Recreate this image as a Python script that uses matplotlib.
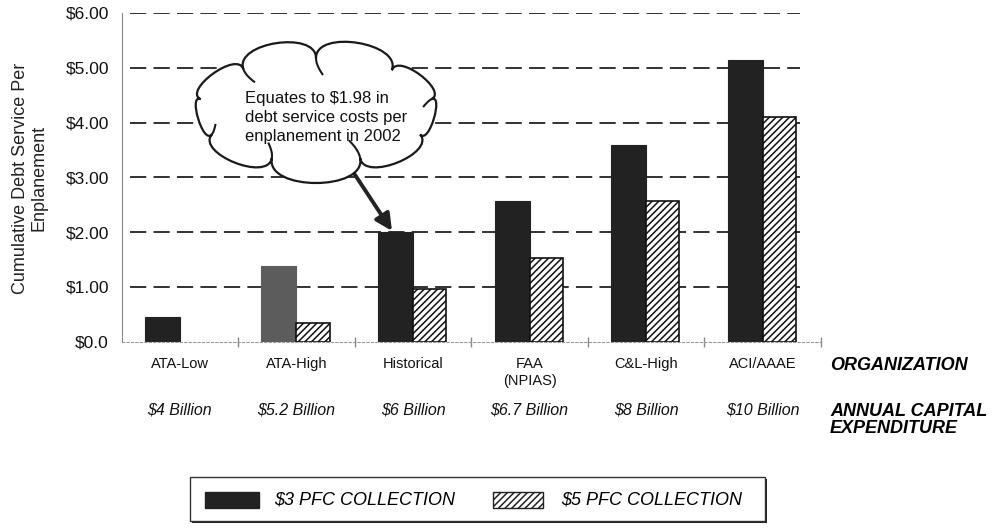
import numpy as np
import matplotlib
matplotlib.use('Agg')
import matplotlib.pyplot as plt
from matplotlib.path import Path
from matplotlib.patches import PathPatch, Rectangle

plt.rcParams['font.family'] = ['Liberation Sans', 'DejaVu Sans']
plt.rcParams['hatch.linewidth'] = 1.1

# debt service per enplanement, by capital-program scenario
organizations = ['ATA-Low', 'ATA-High', 'Historical', 'FAA\n(NPIAS)', 'C&L-High', 'ACI/AAAE']
capex_labels = [r'\$4 Billion', r'\$5.2 Billion', r'\$6 Billion', r'\$6.7 Billion',
                r'\$8 Billion', r'\$10 Billion']
pfc3 = [0.45, 1.38, 2.00, 2.57, 3.59, 5.14]
pfc5 = [0.0, 0.34, 0.96, 1.53, 2.57, 4.10]
pfc3_colors = ['#222222', '#5c5c5c', '#222222', '#222222', '#222222', '#222222']
yticks = [0, 1, 2, 3, 4, 5, 6]
ytick_labels = [r'\$0.0', r'\$1.00', r'\$2.00', r'\$3.00', r'\$4.00', r'\$5.00', r'\$6.00']
callout = 'Equates to \\$1.98 in\ndebt service costs per\nenplanement in 2002'

W, H = 994, 529
fig = plt.figure(figsize=(W / 100, H / 100), dpi=100)
ax = fig.add_axes([121.5 / W, 1 - 341.5 / H, (821 - 121.5) / W, (341.5 - 13) / H])

centers = np.arange(len(organizations)) + 0.5
ax.hlines(yticks[1:], 0.07, 5.82, colors='#222222', linewidth=1.3,
          linestyles=(0, (9, 4)), zorder=1)
ax.bar(centers, pfc3, width=-0.30, align='edge', color=pfc3_colors,
       edgecolor=pfc3_colors, linewidth=0.8, zorder=2)
idx = [i for i, v in enumerate(pfc5) if v > 0]
ax.bar(centers[idx], [pfc5[i] for i in idx], width=0.285, align='edge',
       color='white', edgecolor='#111111', hatch='/////', linewidth=1.2, zorder=2)

ax.set_xlim(0, 6)
ax.set_ylim(0, 6)
ax.set_yticks(yticks)
ax.set_yticklabels(ytick_labels, fontsize=12.5, color='#111111')
ax.tick_params(axis='y', length=0, pad=9)
ax.set_xticks([1, 2, 3, 4, 5, 6])
ax.set_xticklabels([])
ax.tick_params(axis='x', direction='inout', length=7, color='#888888', width=1)
for s in ['top', 'right']:
    ax.spines[s].set_visible(False)
ax.spines['left'].set_color('#888888')
ax.spines['bottom'].set_color('#999999')
ax.spines['bottom'].set_linestyle((0, (2, 2)))

xt = ax.get_xaxis_transform()
for c, org, cap in zip(centers, organizations, capex_labels):
    ax.text(c, -0.047, org, transform=xt, ha='center', va='top', fontsize=10.5,
            linespacing=1.3, color='#111111')
    ax.text(c, -0.2085, cap, transform=xt, ha='center', va='center', fontsize=11.5,
            style='italic', color='#111111')

# arrow from the callout down to the historical bar
ax.annotate('', xy=(2.32, 2.02), xytext=(1.97, 3.15),
            arrowprops=dict(arrowstyle='-|>,head_length=1.0,head_width=0.5',
                            lw=2.8, color='#222222', shrinkA=0, shrinkB=0),
            zorder=3, annotation_clip=False)

fig.text(30 / W, 1 - 178 / H, 'Cumulative Debt Service Per\nEnplanement',
         rotation=90, ha='center', va='center', fontsize=13, linespacing=1.15,
         color='#222222')
fig.text(830 / W, 1 - 366 / H, 'ORGANIZATION', ha='left', va='center',
         fontsize=13, weight='bold', style='italic')
fig.text(830 / W, 1 - 403 / H, 'ANNUAL CAPITAL\nEXPENDITURE', ha='left', va='top',
         fontsize=13, weight='bold', style='italic', linespacing=1.0)

# overlay in pixel coordinates for the callout cloud and the legend box
ov = fig.add_axes([0, 0, 1, 1], zorder=5)
ov.set_xlim(0, W)
ov.set_ylim(H, 0)
ov.axis('off')
ov.patch.set_alpha(0)


def bez(p0, c1, c2, p1, t):
    t = np.asarray(t)[:, None]
    return ((1 - t) ** 3 * p0 + 3 * (1 - t) ** 2 * t * c1
            + 3 * (1 - t) * t ** 2 * c2 + t ** 3 * p1)


cx, cy, a, b = 316, 110, 118, 52
angles = np.radians([-12, 28, 68, 112, 152, 192, 232, 270, 310])
pts = np.c_[cx + a * np.cos(angles), cy + b * np.sin(angles)]
norms = np.c_[np.cos(angles) / a, np.sin(angles) / b]
norms /= np.linalg.norm(norms, axis=1)[:, None]
verts, codes, bumps = [pts[0]], [Path.MOVETO], []
for i in range(len(pts)):
    j = (i + 1) % len(pts)
    d = np.linalg.norm(pts[j] - pts[i])
    c1, c2 = pts[i] + norms[i] * 0.38 * d, pts[j] + norms[j] * 0.38 * d
    verts += [c1, c2, pts[j]]
    codes += [Path.CURVE4] * 3
    bumps.append((pts[i], c1, c2, pts[j]))
ov.add_patch(PathPatch(Path(verts, codes), facecolor='white', edgecolor='#1a1a1a',
                       lw=1.6, zorder=2))
# each scallop curls a little way into the cloud
for k in [0, 2, 3, 4, 6, 7]:
    curl = bez(*bumps[k], np.linspace(-0.15, 0, 12))
    ov.plot(curl[:, 0], curl[:, 1], color='#1a1a1a', lw=1.5, zorder=3)
ov.text(245, 91, callout, ha='left', va='top', fontsize=12, linespacing=1.32,
        color='#111111', zorder=4)

# legend box with drop shadow
ov.add_patch(Rectangle((192, 479), 575, 44, facecolor='#222222', edgecolor='none', zorder=1))
ov.add_patch(Rectangle((190, 477), 575, 44, facecolor='white', edgecolor='#333333',
                       lw=1.0, zorder=2))
ov.add_patch(Rectangle((205, 492), 54, 16, facecolor='#222222', edgecolor='#222222', zorder=3))
ov.add_patch(Rectangle((493, 492), 50, 16, facecolor='white', edgecolor='#222222',
                       hatch='/////', lw=1.0, zorder=3))
ov.text(274, 500, r'\$3 PFC COLLECTION', ha='left', va='center', fontsize=13,
        style='italic', zorder=4)
ov.text(561, 500, r'\$5 PFC COLLECTION', ha='left', va='center', fontsize=13,
        style='italic', zorder=4)

fig.savefig('out.png', dpi=100)
